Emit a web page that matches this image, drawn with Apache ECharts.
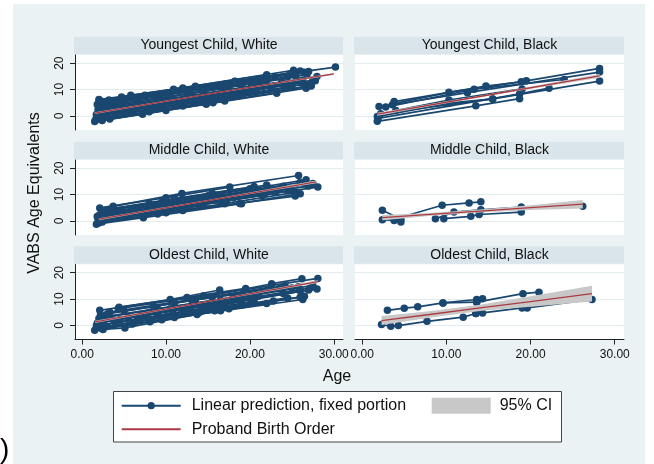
<!DOCTYPE html>
<html><head><meta charset="utf-8">
<script src="https://cdn.jsdelivr.net/npm/echarts@6/dist/echarts.min.js"></script>
<style>html,body{margin:0;padding:0;background:#fff}#c{width:654px;height:464px}</style>
</head><body><div id="c"></div>
<script>
// ---------- data ----------
const panelTitles = ['Youngest Child, White', 'Youngest Child, Black', 'Middle Child, White', 'Middle Child, Black', 'Oldest Child, White', 'Oldest Child, Black'];
const xTicks = [0, 10, 20, 30];
const yTicks = [0, 10, 20];
const legendNames = ['Linear prediction, fixed portion', 'Proband Birth Order', '95% CI'];
const xTitle = 'Age';
const yTitle = 'VABS Age Equivalents';

// individual trajectories: [age, VABS age equivalent]
const ywLines = [
  [[1.5,-2.2],[10,2.0],[23.2,8.6]],
  [[2.2,-1.4],[12,3.7],[27.3,11.5]],
  [[3.3,-1.2],[15.6,5.0],[26.7,10.5]],
  [[2.5,-0.6],[9.6,3.3],[20,9.0]],
  [[1.8,-0.6],[6,1.5],[18,7.5],[25,11.0]],
  [[2.0,0.0],[14,6.3],[27.5,13.3]],
  [[4.0,1.5],[11,5.0],[22.5,10.8]],
  [[2.0,1.0],[8,4.0],[16,8.0],[24,12.0]],
  [[3.0,1.9],[13,6.7],[26,13.0]],
  [[2.2,2.1],[10.5,6.3],[19,10.5]],
  [[1.9,2.4],[7,4.9],[21,11.6],[28,14.9]],
  [[3.5,3.8],[12.5,8.3],[25.5,14.8]],
  [[2.0,3.4],[9,6.7],[17.5,10.7]],
  [[2.6,4.3],[14.5,10.0],[24.5,14.8]],
  [[1.8,4.3],[6.5,6.5],[20.5,12.9]],
  [[2.3,5.1],[11.5,9.4],[26.5,16.5]],
  [[2.0,5.4],[12.2,10.0],[22,14.4]],
  [[2.1,5.9],[4.7,7.1],[18.2,13.0]],
  [[5.8,7.8],[10.9,10.1],[25.2,17.3]],
  [[2.0,6.2],[13.5,11.2],[30.2,18.5]],
  [[7.5,7.8],[18.2,13.1],[26,17.0]],
  [[3.0,-0.3],[16,6.2],[27.3,11.3]],
  [[5.0,3.1],[15,7.6],[27.8,13.3]],
  [[4.5,5.1],[19,12.7],[27,16.8]],
  [[6.0,2.9],[21.5,11.1],[26.3,13.6]],
  [[8.5,7.6],[16.5,11.6],[23,14.8]],
  [[1.6,-1.5],[8,1.5],[17,5.6]],
  [[2.8,3.3],[22,13.2],[26.8,15.7]],
  [[3.2,6.0],[12.0,10.6],[22.0,15.6]],
  [[1.7,0.5],[5.5,2.4],[12.8,6.0],[19.5,9.6]],
  [[2.4,-1.8],[7.2,0.6],[14.8,4.4]],
  [[4.2,3.0],[9.8,5.8],[16.8,9.3],[23.8,12.8]],
  [[2.9,0.8],[11.8,5.4],[20.8,10.0],[26.1,12.5]],
  [[6.8,4.3],[13.2,7.6],[20.2,11.3]],
  [[3.8,5.3],[9.3,8.1],[15.8,11.2],[21.3,13.8]],
  [[8.8,2.6],[15.3,6.0],[24.2,10.7]],
  [[5.2,1.1],[11.2,4.1],[18.7,7.9]],
  [[10.2,8.6],[17.2,12.2],[24.8,15.9]],
  [[13.8,5.4],[20.6,8.9],[27.0,12.2]]
];
const ybLines = [
  [[2.0,3.5],[10.3,8.9],[19.5,13.3],[28.2,18.0]],
  [[3.8,5.4],[14.7,11.3],[18.9,12.9]],
  [[1.8,-2.1],[13.5,3.8],[18.7,6.5]],
  [[1.8,-0.3],[10.3,4.8],[15.5,6.4]],
  [[3.6,4.2],[12.5,8.8],[28.2,16.6]],
  [[2.2,0.8],[15.5,6.4],[28.2,13.2]],
  [[1.9,-1.0],[18.7,8.3],[22.2,10.5]],
  [[4.0,2.0],[10.3,6.0],[19,10.2]],
  [[2.8,3.3],[13.3,10.1],[24,13.8]]
];
const mwLines = [
  [[1.7,-1.3],[7.3,1.2],[19,6.5]],
  [[2.0,-0.8],[12,3.9],[25.4,9.4]],
  [[2.4,-0.5],[9,2.6],[18.8,6.6],[26,10.3]],
  [[1.9,0.6],[14,6.4],[28.1,12.8]],
  [[2.2,1.2],[8,4.0],[16,7.9]],
  [[3.0,1.6],[11,5.4],[22,10.8]],
  [[2.0,2.0],[6,4.0],[21,11.2],[26.5,14.0]],
  [[2.6,2.8],[13,7.9],[24,13.1]],
  [[2.1,4.9],[10,8.8],[17.6,12.8]],
  [[3.7,5.5],[11.9,10.4],[25.8,17.2]],
  [[4.5,4.0],[15,9.5],[26.7,15.6]],
  [[2.3,3.5],[9.5,7.0],[20,12.2]],
  [[5.5,2.2],[12.5,5.6],[23,10.8]],
  [[2.0,-0.2],[7.5,2.5],[14.5,5.8]],
  [[6.5,3.2],[18,8.8],[27,13.2]],
  [[2.8,0.7],[16.5,7.3],[25,11.5]],
  [[3.5,4.6],[11,8.4],[20.5,13.0]],
  [[8.5,5.6],[14,8.2],[22.5,12.3]],
  [[2.5,0.3],[5.0,1.5],[12,4.7]],
  [[1.8,1.6],[10.5,5.8],[23.5,12.0],[27.5,14.2]],
  [[4.0,3.0],[13.8,7.9],[19.5,10.6]],
  [[10,3.1],[17,6.5],[25.4,10.8]],
  [[2.2,0.1],[9.8,3.8],[17.2,7.6],[24.6,11.4]],
  [[4.8,1.3],[10.2,4.1],[21.5,9.6]],
  [[2.9,4.1],[8.0,6.6],[15.5,10.5],[22.0,13.6]],
  [[7.0,4.6],[16.2,9.6],[26.0,14.6]]
];
const mbLines = [
  [[2.4,4.0],[4.6,0.6]],
  [[2.4,0.4],[3.8,0.1],[4.6,-0.5]],
  [[3.8,0.6],[9.5,5.9],[12.7,6.8],[14.1,7.2]],
  [[8.7,0.8],[10.9,3.3],[14.1,4.2],[18.9,5.2],[26.2,5.5]],
  [[9.7,0.8],[12.9,1.7],[13.9,2.4],[18.9,3.3]]
];
const owLines = [
  [[1.5,-1.9],[8.1,1.3],[22,8.3]],
  [[2.5,-1.6],[5.1,-1.0],[13.7,4.1],[26.3,9.8]],
  [[2.0,-0.8],[10,3.2],[19,7.6]],
  [[3.0,-0.5],[14,5.0],[26.5,11.0]],
  [[2.2,0.2],[9,3.6],[17,7.8]],
  [[1.8,0.8],[12,6.0],[24,12.0]],
  [[4.0,1.0],[15,6.8],[27,13.4]],
  [[2.6,1.6],[7.5,4.0],[20,10.2]],
  [[2.1,5.7],[10.5,9.8],[16.4,13.4]],
  [[2.2,4.1],[11,8.5],[22.6,14.6]],
  [[3.3,5.0],[13,9.8],[22.6,15.8],[26.2,17.7]],
  [[4.3,6.3],[14.5,11.2],[28.1,17.8]],
  [[4.4,6.9],[12.5,10.6],[19.5,14.0]],
  [[2.0,2.6],[13.5,8.4],[25,14.2]],
  [[5.5,3.0],[16,8.2],[26,13.0]],
  [[2.9,3.4],[9,6.3],[18,10.5]],
  [[6.5,1.5],[14.2,5.6],[24.5,10.4]],
  [[8.0,5.0],[16.5,9.5],[25.8,14.6]],
  [[3.6,2.4],[12,6.6],[21,11.0]],
  [[10.5,6.3],[19,10.6],[27.5,15.2]],
  [[2.3,-1.2],[6,0.5],[16.5,5.5]],
  [[11,3.0],[17.5,6.3],[26,10.7]],
  [[5,5.4],[13.5,9.6],[23.5,14.0]],
  [[2.0,1.2],[16,8.0],[28.0,13.8]],
  [[1.7,-0.2],[6.8,2.3],[13.0,5.4],[20.5,9.1]],
  [[3.0,4.3],[8.5,7.2],[15.5,10.7],[24.2,15.0]],
  [[7.0,3.7],[12.8,6.9],[18.5,9.9]],
  [[9.5,2.1],[15.8,5.5],[22.8,9.2]],
  [[4.5,2.2],[10.8,5.6],[17.8,9.2],[27.2,14.2]]
];
const obLines = [
  [[3.0,5.7],[5.0,6.5],[6.6,7.0],[9.6,8.5],[13.6,9.8],[14.3,10.1]],
  [[13.6,8.8],[19.1,12.0],[21.0,12.6]],
  [[9.6,8.5],[13.6,8.8]],
  [[2.3,0.3],[3.4,-0.4],[4.3,-0.1],[7.7,1.5],[12.0,3.1],[13.5,4.5]],
  [[13.5,4.5],[14.3,4.7],[19.0,6.6],[19.6,6.6],[27.3,9.8]]
];

// fitted line with 95% CI: [age, fit, lower, upper]
const ywFit = [[1.5,1.0,0.7,1.3],[15,8.2,8.05,8.35],[30.0,15.9,15.5,16.3]];
const ybFit = [[1.8,0.6,0.0,1.2],[15,7.9,7.6,8.2],[28.2,15.2,14.5,15.9]];
const mwFit = [[2.0,0.6,0.2,1.0],[15,7.7,7.5,7.9],[27.9,14.8,14.3,15.3]];
const mbFit = [[2.4,1.2,0.2,2.2],[8,2.4,1.8,3.0],[14,3.7,3.15,4.25],[20,5.0,4.1,5.9],[26.2,6.3,4.7,7.9]];
const owFit = [[1.55,1.3,0.9,1.7],[15,9.05,8.85,9.25],[28.1,16.6,16.1,17.1]];
const obFit = [[2.3,1.8,0.1,3.5],[8,4.1,2.9,5.3],[14,6.6,5.4,7.8],[20,9.0,7.0,11.0],[27.3,12.0,9.0,15.0]];

// ---------- styling / layout ----------
const NAVY = '#1a476f', MAROON = '#ad3a42', CI_COLOR = '#c8c8c8';
const BG = '#eaf2f3', STRIP = '#d9e5eb', GRIDC = '#e2ebee', AX = '#222', TXT = '#111';
const FONT = "'Liberation Sans', Arial, sans-serif";
const colL = [75, 355], colW = [268, 269], rowT = [55, 160, 264.5], plotH = 75;
const XMIN = -0.85, XMAX = 31.1, YMIN = -5.4, YMAX = 23.1;

const panelData = [[ywLines, ywFit], [ybLines, ybFit], [mwLines, mwFit], [mbLines, mbFit], [owLines, owFit], [obLines, obFit]];

const grid = [], xAxis = [], yAxis = [], series = [];
const graphics = [
  {type: 'rect', z: -10, shape: {x: 13, y: 4, width: 632, height: 460}, style: {fill: BG}}
];

panelData.forEach(([lines, fit], i) => {
  const row = Math.floor(i / 2), col = i % 2;
  const L = colL[col], W = colW[col], T = rowT[row];
  grid.push({left: L, top: T, width: W, height: plotH, show: true, backgroundColor: '#fff', borderWidth: 0, borderColor: 'transparent'});
  const bottom = row === 2, left = col === 0;
  xAxis.push({
    type: 'value', gridIndex: i, min: XMIN, max: XMAX,
    axisLine: {show: bottom, onZero: false, lineStyle: {color: AX, width: 1}},
    axisTick: {show: bottom, length: 5, lineStyle: {color: AX}, customValues: xTicks},
    axisLabel: {show: bottom, customValues: xTicks, formatter: v => Number(v).toFixed(2), fontSize: 12, color: TXT, margin: 9, fontFamily: FONT},
    splitLine: {show: false}
  });
  yAxis.push({
    type: 'value', gridIndex: i, min: YMIN, max: YMAX,
    axisLine: {show: left, onZero: false, lineStyle: {color: AX, width: 1}},
    axisTick: {show: left, length: 5, lineStyle: {color: AX}, customValues: yTicks},
    axisLabel: {show: left, customValues: yTicks, rotate: 90, fontSize: 12, color: TXT, margin: 9, fontFamily: FONT},
    splitLine: {show: true, lineStyle: {color: GRIDC, width: 1}}
  });
  // strip + title
  graphics.push({type: 'rect', z: -5, shape: {x: L - 1, y: T - 18.3, width: W + 1, height: 17.6}, style: {fill: STRIP}});
  graphics.push({type: 'text', z: -4, x: L + W / 2, y: T - 9.5,
    style: {text: panelTitles[i], fill: TXT, font: '14px ' + FONT, textAlign: 'center', textVerticalAlign: 'middle'}});

  lines.forEach(ln => series.push({
    type: 'line', name: legendNames[0], xAxisIndex: i, yAxisIndex: i, data: ln,
    symbol: 'circle', symbolSize: 7.5, showSymbol: true,
    lineStyle: {color: NAVY, width: 1.7}, itemStyle: {color: NAVY},
    z: 2, silent: true, emphasis: {disabled: true}
  }));
  series.push({
    type: 'custom', name: legendNames[2], xAxisIndex: i, yAxisIndex: i,
    data: fit.map(f => [f[0], f[2], f[3]]), encode: {x: 0, y: [1, 2]},
    itemStyle: {color: CI_COLOR}, z: 3, silent: true,
    renderItem: function (params, api) {
      if (params.dataIndex !== 0) return null;
      const up = fit.map(f => api.coord([f[0], f[3]]));
      const lo = fit.slice().reverse().map(f => api.coord([f[0], f[2]]));
      return {type: 'polygon', shape: {points: up.concat(lo)}, style: {fill: CI_COLOR}};
    }
  });
  series.push({
    type: 'line', name: legendNames[1], xAxisIndex: i, yAxisIndex: i,
    data: fit.map(f => [f[0], f[1]]), symbol: 'none',
    lineStyle: {color: MAROON, width: 1.3}, itemStyle: {color: MAROON},
    z: 4, silent: true, emphasis: {disabled: true}
  });
});

// axis titles, legend box, stray glyph
graphics.push({type: 'text', x: 337, y: 377, style: {text: xTitle, fill: TXT, font: '16px ' + FONT, textAlign: 'center', textVerticalAlign: 'middle'}});
graphics.push({type: 'text', x: 35, y: 193, rotation: Math.PI / 2, style: {text: yTitle, fill: TXT, font: '16px ' + FONT, textAlign: 'center', textVerticalAlign: 'middle'}});
graphics.push({type: 'rect', z: -3, shape: {x: 113.5, y: 391.5, width: 448, height: 50.5}, style: {fill: '#fff', stroke: '#444', lineWidth: 1}});
graphics.push({type: 'text', x: 0, y: 450, style: {text: ')', fill: '#000', font: '28px ' + FONT, textAlign: 'left', textVerticalAlign: 'middle'}});

const chart = echarts.init(document.getElementById('c'), null, {renderer: 'canvas'});
chart.setOption({
  animation: false,
  backgroundColor: '#fff',
  grid, xAxis, yAxis, series,
  graphic: {elements: graphics},
  legend: [
    {left: 120.7, top: 397.7, orient: 'vertical', padding: 0, itemGap: 7.6, itemWidth: 59, itemHeight: 9,
     selectedMode: false,
     data: [{name: legendNames[0]}, {name: legendNames[1], itemStyle: {opacity: 0}}],
     textStyle: {fontSize: 16, color: TXT, fontFamily: FONT, padding: [0, 0, 0, 6]}},
    {left: 431.7, top: 397.7, orient: 'vertical', padding: 0, itemWidth: 59, itemHeight: 16,
     selectedMode: false,
     data: [{name: legendNames[2], icon: 'rect', itemStyle: {color: CI_COLOR, borderWidth: 0}}],
     textStyle: {fontSize: 16, color: TXT, fontFamily: FONT, padding: [0, 0, 0, 4]}}
  ]
});
</script></body></html>
